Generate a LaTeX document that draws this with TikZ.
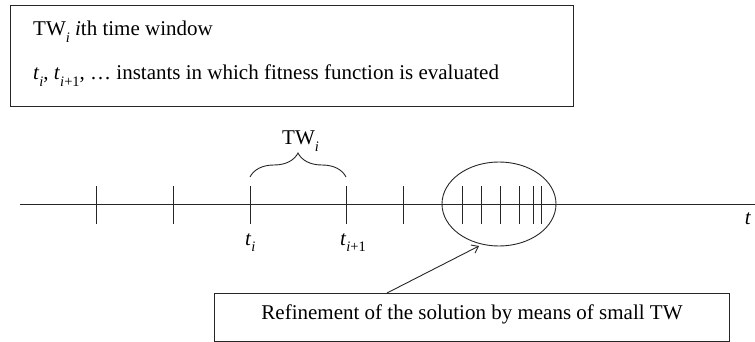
\documentclass[tikz,border=0pt]{standalone}
\usepackage{fontspec}
\setmainfont{Liberation Serif}
\usetikzlibrary{shapes.geometric,arrows.meta,decorations.pathreplacing}
\newcommand{\iv}{\textit{i}}
\newcommand{\sub}[1]{\raisebox{-0.3em}{\fontsize{14.5}{16}\selectfont #1}}
\begin{document}
\begin{tikzpicture}[x=1pt,y=-1pt,
  txt/.style={font=\fontsize{21}{24}\selectfont, inner sep=0pt},
  frame/.style={draw=black!85, line width=1pt, inner sep=0pt},
  axisline/.style={draw=black!85, line width=0.9pt},
  tickmark/.style={draw=black!85, line width=0.9pt},
  callout/.style={draw=black!85, line width=0.9pt, -{Straight Barb[length=6pt,width=9pt]}},
  bracket/.style={draw=black!85, line width=0.9pt, decorate,
    decoration={brace, amplitude=24pt}},
]
\useasboundingbox (0,0) rectangle (755,342);

% legend
\node[frame, minimum width=563pt, minimum height=101pt, anchor=north west] (legend) at (10,5) {};
\node[txt, anchor=base west] (l1) at (33,36) {TW\sub{\iv}\ \iv th time window};
\node[txt, anchor=base west] (l2) at (33,80)
  {\textit{t}\sub{\iv}, \textit{t}\sub{\iv+1}, \dots\ instants in which fitness function is evaluated};

% time axis
\coordinate (a0) at (20,204);
\coordinate (a1) at (755,204);
\draw[axisline] (a0) -- (a1);
\foreach \x in {96,173,250,346,403,462,481,500,519,533,541}
  \draw[tickmark] (\x,186) -- (\x,224);
\node[txt, anchor=base] (tend) at (748,224) {\textit{t}};
\node[txt, anchor=base west] (ti) at (245,245) {\textit{t}\sub{\iv}};
\node[txt, anchor=base west] (ti1) at (340,245) {\textit{t}\sub{\iv+1}};

% time window brace
\coordinate (b0) at (250,177);
\coordinate (b1) at (346,177);
\draw[bracket] (b0) -- (b1);
\node[txt, anchor=base west] (tw) at (282,145) {TW\sub{\iv}};

% refinement zone
\node[draw=black!85, line width=0.9pt, ellipse, minimum width=114pt, minimum height=84pt, inner sep=0pt] (zone) at (499,204) {};

% refinement note
\node[frame, minimum width=515pt, minimum height=48pt, anchor=north west] (note) at (214,293) {};
\node[txt, anchor=base] (notetext) at (note.center |- 0,319) {Refinement of the solution by means of small TW};
\coordinate (from) at (387,293);
\coordinate (to) at (479,246);
\draw[callout] (from) -- (to);
\end{tikzpicture}
\end{document}
